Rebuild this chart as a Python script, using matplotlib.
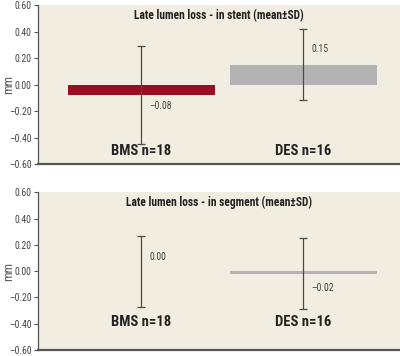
import numpy as np
import matplotlib.pyplot as plt

plt.rcParams['font.family'] = ['Roboto Condensed', 'DejaVu Sans']
plt.rcParams['font.stretch'] = 'condensed'

groups = ['BMS n=18', 'DES n=16']
titles = ['Late lumen loss - in stent (mean\u00b1SD)', 'Late lumen loss - in segment (mean\u00b1SD)']
means = [[-0.08, 0.15], [0.00, -0.02]]
sds = [[0.37, 0.27], [0.27, 0.27]]
value_labels = [['\u20130.08', '0.15'], ['0.00', '\u20130.02']]
label_y = [[-0.16, 0.27], [0.11, -0.125]]
group_label_y = [-0.5, -0.39]
yticks = [0.6, 0.4, 0.2, 0.0, -0.2, -0.4, -0.6]
ytick_labels = ['0.60', '0.40', '0.20', '0.00', '\u20130.20', '\u20130.40', '\u20130.60']
bar_colors = ['#9c0d22', '#b3b3b3']

bg = '#f1ede0'
spine_c = '#555555'

fig = plt.figure(figsize=(4, 3.56), dpi=100, facecolor='w')
ax_pos = [[0.095, 0.539, 0.905, 0.447], [0.095, 0.017, 0.905, 0.443]]

x = np.arange(len(groups))
for i in range(2):
    ax = fig.add_axes(ax_pos[i])
    ax.set_facecolor(bg)
    ax.bar(x, means[i], width=0.91, color=bar_colors, zorder=2)
    ax.errorbar(x, means[i], yerr=sds[i], fmt='none', ecolor='#4a4a4a',
                elinewidth=0.9, capsize=3, capthick=0.9, zorder=3)
    for j in range(len(groups)):
        ax.text(x[j] + 0.05, label_y[i][j], value_labels[i][j], fontsize=7,
                color='#444444', ha='left', va='center')
        ax.text(x[j], group_label_y[i], groups[j], fontsize=10.5, fontweight='bold',
                color='#222222', ha='center', va='center')
    ax.text(0.5, 0.935, titles[i], transform=ax.transAxes, fontsize=8.3,
            fontweight='bold', color='#222222', ha='center', va='center')
    ax.set_xlim(-0.64, 1.6)
    ax.set_ylim(-0.6, 0.6)
    ax.set_yticks(yticks)
    ax.set_yticklabels(ytick_labels)
    ax.set_xticks([])
    ax.tick_params(axis='y', labelsize=7, colors=spine_c, length=3, width=0.8,
                   labelcolor='#444444', pad=1.5)
    ax.set_ylabel('mm', fontsize=9, color='#555555')
    ax.yaxis.set_label_coords(-0.062, 0.5)
    ax.spines['top'].set_visible(False)
    ax.spines['right'].set_visible(False)
    ax.spines['left'].set_color(spine_c)
    ax.spines['left'].set_linewidth(0.9)
    ax.spines['bottom'].set_color(spine_c)
    ax.spines['bottom'].set_linewidth(1.6)

fig.savefig('out.png', dpi=100, facecolor='w')
